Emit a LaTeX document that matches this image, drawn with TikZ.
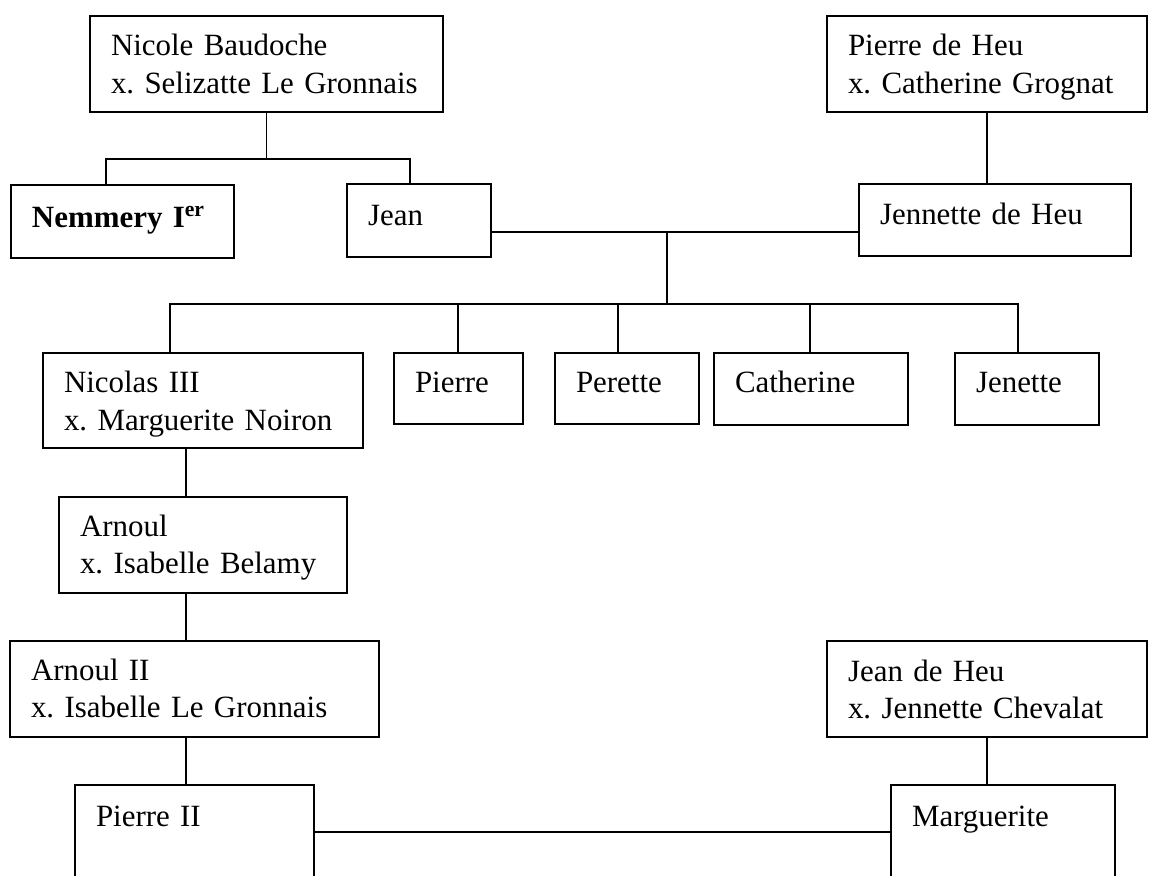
\documentclass[tikz,border=0pt]{standalone}
\usepackage{fontspec}
\setmainfont{Liberation Serif}[WordSpace=0.8]
\newcommand{\unitpx}{0.375pt}
\tikzset{
  person/.style n args={3}{draw, line width=0.75pt, anchor=north west,
    inner xsep=21*\unitpx, inner ysep=0pt, align=left,
    minimum width=#1*\unitpx, text width=(#1-42)*\unitpx,
    minimum height=#2*\unitpx, text height=#3*\unitpx, text depth=(#2-#3)*\unitpx},
  link/.style={line width=0.65pt}
}
\begin{document}
\frenchspacing
\hyphenpenalty=10000
\begin{tikzpicture}[x=\unitpx, y=-\unitpx, font=\fontsize{11.6}{13.9}\selectfont]
\useasboundingbox (0,0) rectangle (1154,876);
\clip (0,0) rectangle (1154,876);
\node[person={353}{96}{40}] (nicole) at (89,15) {Nicole Baudoche\\x. Selizatte Le Gronnais};
\node[person={320}{96}{40}] (pierreheu) at (826,15) {Pierre de Heu\\x. Catherine Grognat};
\node[person={223}{73}{43}] (nemmery) at (10,184) {\textbf{Nemmery I\textsuperscript{er}}};
\node[person={144}{73}{42}] (jean) at (346,183) {Jean};
\node[person={272}{72}{41}] (jennette) at (858,183) {Jennette de Heu};
\node[person={320}{95}{40}] (nicolas) at (42,352) {Nicolas III\\x. Marguerite Noiron};
\node[person={129}{71}{40}] (pierre) at (393,352) {Pierre};
\node[person={144}{71}{40}] (perette) at (554,352) {Perette};
\node[person={194}{72}{40}] (catherine) at (713,352) {Catherine};
\node[person={144}{72}{40}] (jenette) at (954,352) {Jenette};
\node[person={288}{96}{39}] (arnoul) at (58,496) {Arnoul\\x. Isabelle Belamy};
\node[person={369}{96}{39}] (arnoulii) at (9,640) {Arnoul II\\x. Isabelle Le Gronnais};
\node[person={320}{96}{40}] (jeanheu) at (826,640) {Jean de Heu\\x. Jennette Chevalat};
\node[person={239}{130}{41}] (pierreii) at (74,784) {Pierre II};
\node[person={224}{130}{41}] (marguerite) at (890,784) {Marguerite};
% forks and marriage lines
\coordinate (b1) at (106,159);
\coordinate (b2) at (410,159);
\coordinate (m1) at (667,232);
\coordinate (c0) at (170,304);
\coordinate (c5) at (1018,304);
\coordinate (d) at (186,0);
\coordinate (m2) at (600,832);
\draw[link] (nicole.south) -- (nicole.south |- b1);
\draw[link] (nemmery.north -| b1) -- (b1) -- (b2) -- (jean.north -| b2);
\draw[link] (pierreheu.south) -- (pierreheu.south |- jennette.north);
\draw[link] (jean.east |- m1) -- (jennette.west |- m1);
\draw[link] (m1) -- (m1 |- c0);
\draw[link] (nicolas.north -| c0) -- (c0) -- (c5) -- (jenette.north -| c5);
\foreach \k/\x in {pierre/458, perette/618, catherine/810}
  \draw[link] (\k.north -| \x,0) -- (\x,304);
\draw[link] (nicolas.south -| d) -- (arnoul.north -| d);
\draw[link] (arnoul.south -| d) -- (arnoulii.north -| d);
\draw[link] (arnoulii.south -| d) -- (pierreii.north -| d);
\draw[link] (jeanheu.south) -- (jeanheu.south |- marguerite.north);
\draw[link] (pierreii.east |- m2) -- (marguerite.west |- m2);
\end{tikzpicture}
\end{document}
